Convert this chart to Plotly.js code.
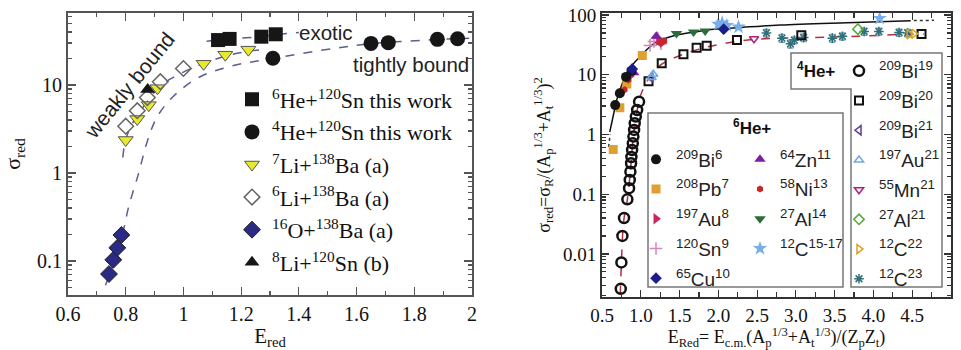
<!DOCTYPE html>
<html><head><meta charset="utf-8">
<script src="https://cdn.plot.ly/plotly-3.0.1.min.js"></script>
<style>html,body{margin:0;padding:0;background:#fff}</style>
</head><body><div id="chart" style="width:961px;height:350px"></div>
<script>
// ---------- LEFT PANEL DATA ----------
const he6Sn_x = [1.12, 1.16, 1.27, 1.32];
const he6Sn_y = [32.4, 33.4, 35.4, 37.7];
const he4Sn_x = [1.31, 1.65, 1.71, 1.88, 1.95];
const he4Sn_y = [20.1, 29.7, 30.3, 33.0, 33.6];
const li7Ba_x = [0.80, 0.84, 0.88, 0.91, 1.07, 1.145, 1.225];
const li7Ba_y = [2.37, 4.1, 5.9, 9.2, 17.4, 22.1, 25.2];
const li6Ba_x = [0.80, 0.84, 0.875, 0.92, 1.0];
const li6Ba_y = [3.4, 5.1, 7.2, 10.9, 15.4];
const o16Ba_x = [0.742, 0.757, 0.771, 0.785];
const o16Ba_y = [0.071, 0.103, 0.141, 0.197];
const li8Sn_x = [0.876];
const li8Sn_y = [8.9];
const fitExotic_x = [1.08, 1.12, 1.16, 1.27, 1.32, 1.40];
const fitExotic_y = [31.5, 32.4, 33.4, 35.4, 37.5, 39.5];
const fitWeak_x = [0.79, 0.80, 0.83, 0.88, 0.92, 1.0, 1.07, 1.15, 1.22, 1.29];
const fitWeak_y = [1.5, 2.4, 4.0, 6.8, 9.8, 14.0, 17.5, 21.5, 24.0, 25.5];
const fitTight_x = [0.73, 0.76, 0.79, 0.81, 0.845, 0.875, 0.91, 0.97, 1.06, 1.17, 1.31, 1.52, 1.65, 1.85, 1.99];
const fitTight_y = [0.053, 0.10, 0.21, 0.41, 1.0, 2.3, 4.4, 7.7, 12.5, 16.5, 20.1, 26, 29.5, 32.5, 34];

// ---------- RIGHT PANEL DATA ----------
const bi6_x = [0.67, 0.73, 0.81, 0.88];          const bi6_y = [3.1, 4.9, 9.2, 11.6];
const pb7_x = [0.645, 0.73, 0.82, 1.02];         const pb7_y = [0.56, 2.8, 7.0, 21];
const au8_x = [0.86, 1.23, 1.28];                const au8_y = [9.5, 38, 35];
const sn9_x = [1.12, 1.17, 1.22, 1.26];          const sn9_y = [31, 36, 41, 33];
const cu10_x = [0.89, 2.07];                     const cu10_y = [12.5, 58];
const zn11_x = [0.91, 1.20];                     const zn11_y = [10.8, 44];
const ni13_x = [0.79, 0.84, 1.25, 1.30];         const ni13_y = [5.6, 8.2, 34, 37];
const al14_x = [1.46, 1.68, 1.83, 2.06];         const al14_y = [49, 52, 54, 57];
const c15_x = [2.0, 2.05, 2.11, 2.26, 4.08];     const c15_y = [70, 74, 67, 63, 88];
const bi19_x = [0.742, 0.750, 0.763, 0.784, 0.827, 0.849, 0.858, 0.866, 0.875, 0.879, 0.888, 0.897, 0.905, 0.914, 0.922, 0.936, 0.953, 0.978];
const bi19_y = [0.0026, 0.0072, 0.020, 0.040, 0.082, 0.126, 0.173, 0.238, 0.33, 0.42, 0.55, 0.71, 0.92, 1.19, 1.54, 1.99, 2.57, 3.54];
const bi20_x = [1.10, 1.27, 1.55, 1.72, 1.85, 2.24, 3.07, 4.62];
const bi20_y = [7.8, 15.5, 22, 28.4, 30.6, 38.2, 46, 48];
const bi21_x = [1.13];                           const bi21_y = [9.0];
const au21_x = [1.14, 1.16];                     const au21_y = [9.0, 10.2];
const mn21_x = [2.46];                           const mn21_y = [40];
const al21_x = [3.8];                            const al21_y = [58];
const c22_x = [4.46, 4.52];                      const c22_y = [47.5, 48.5];
const c23_x = [2.62, 2.82, 2.93, 2.98, 3.10, 3.47, 3.60, 3.88, 4.07, 4.33, 4.44];
const c23_y = [50, 41, 33, 38, 42, 41, 44, 53, 53, 51, 50];
const c23_err = [7, 6, 5, 5, 6, 6, 6, 7, 7, 7, 7];
const fit6_x = [0.60, 0.65, 0.69, 0.75, 0.82, 0.90, 0.99, 1.10, 1.21, 1.35, 1.51, 1.70, 1.94, 2.30, 2.80, 3.66, 4.48];
const fit6_y = [1.1, 2.2, 3.8, 6.5, 10.6, 15, 20, 28, 35.7, 42, 47.5, 52, 57.5, 62, 68, 74.5, 80.3];
const fit6dot_x = [0.585, 0.605, null, 4.52, 4.78];
const fit6dot_y = [0.62, 1.0, null, 80.5, 81.5];
const fit4_x = [0.735, 0.75, 0.765, 0.785, 0.82, 0.86, 0.90, 0.95, 1.0, 1.05, 1.10, 1.27, 1.55, 1.85, 2.3, 2.6, 3.2, 3.8, 4.3, 4.65];
const fit4_y = [0.0021, 0.007, 0.02, 0.04, 0.07, 0.2, 0.8, 2.4, 4.6, 6.5, 8.5, 15, 22, 29, 37, 40, 42, 44, 47, 48];

const W = 961, H = 350;
const px = v => v / W, py = v => 1 - v / H;

const SERIF = 'Liberation Serif', SANS = 'Liberation Sans';
const fitColL = '#5a5e8e';

function mk(x, y, name, marker, extra) {
  return Object.assign({type: 'scatter', mode: 'markers', x: x, y: y, name: name, legendgroup: name, marker: marker}, extra || {});
}
function ln(x, y, line, xa, ya) {
  return {type: 'scatter', mode: 'lines', x: x, y: y, line: line, showlegend: false, xaxis: xa, yaxis: ya, hoverinfo: 'skip', connectgaps: false};
}

const traces = [
  ln(fitExotic_x, fitExotic_y, {color: fitColL, dash: 'dash', width: 1.5, shape: 'spline'}, 'x', 'y'),
  ln(fitWeak_x, fitWeak_y, {color: fitColL, dash: 'dash', width: 1.5, shape: 'spline'}, 'x', 'y'),
  ln(fitTight_x, fitTight_y, {color: fitColL, dash: 'dash', width: 1.5, shape: 'spline'}, 'x', 'y'),
  mk(he6Sn_x, he6Sn_y, '<sup>6</sup>He+<sup>120</sup>Sn this work', {symbol: 'square', size: 14, color: '#161616'}, {legend: 'legend'}),
  mk(he4Sn_x, he4Sn_y, '<sup>4</sup>He+<sup>120</sup>Sn this work', {symbol: 'circle', size: 15, color: '#161616'}, {legend: 'legend'}),
  mk(li7Ba_x, li7Ba_y, '<sup>7</sup>Li+<sup>138</sup>Ba (a)', {symbol: 'triangle-down', size: 13, color: '#e8e82c', line: {color: '#555', width: 1}}, {legend: 'legend'}),
  mk(li6Ba_x, li6Ba_y, '<sup>6</sup>Li+<sup>138</sup>Ba (a)', {symbol: 'diamond-open', size: 12, color: '#666', line: {width: 1.5}}, {legend: 'legend'}),
  mk(o16Ba_x, o16Ba_y, '<sup>16</sup>O+<sup>138</sup>Ba (a)', {symbol: 'diamond', size: 13, color: '#2b2b85', line: {color: '#222', width: 1}}, {legend: 'legend'}),
  mk(li8Sn_x, li8Sn_y, '<sup>8</sup>Li+<sup>120</sup>Sn (b)', {symbol: 'triangle-up', size: 13, color: '#161616'}, {legend: 'legend'}),
  ln(fit4_x, fit4_y, {color: '#b03040', dash: 'dash', width: 1.5, shape: 'spline'}, 'x2', 'y2'),
  ln(fit6_x, fit6_y, {color: '#111', width: 1.5, shape: 'spline'}, 'x2', 'y2'),
  ln(fit6dot_x, fit6dot_y, {color: '#333', dash: 'dot', width: 1.5}, 'x2', 'y2'),
];
const R = {xaxis: 'x2', yaxis: 'y2'};
const rightTraces = [
  mk(c23_x, c23_y, '<sup>12</sup>C<sup>23</sup>', {symbol: 'asterisk-open', size: 8, color: '#2f6f7a', line: {color: '#2f6f7a', width: 1.5}},
     Object.assign({legend: 'legend4', error_y: {type: 'data', array: c23_err, color: '#7aa8b8', thickness: 1.5, width: 3}}, R)),
  mk(bi20_x, bi20_y, '<sup>209</sup>Bi<sup>20</sup>', {symbol: 'square-open', size: 8, color: '#111', line: {width: 2}}, Object.assign({legend: 'legend4'}, R)),
  mk(bi21_x, bi21_y, '<sup>209</sup>Bi<sup>21</sup>', {symbol: 'triangle-left-open', size: 8, color: '#5b3b9b', line: {width: 1.5}}, Object.assign({legend: 'legend4'}, R)),
  mk(au21_x, au21_y, '<sup>197</sup>Au<sup>21</sup>', {symbol: 'triangle-up-open', size: 8, color: '#6fa8e0', line: {width: 1.5}}, Object.assign({legend: 'legend4'}, R)),
  mk(mn21_x, mn21_y, '<sup>55</sup>Mn<sup>21</sup>', {symbol: 'triangle-down-open', size: 8, color: '#b0207a', line: {width: 1.5}}, Object.assign({legend: 'legend4'}, R)),
  mk(al21_x, al21_y, '<sup>27</sup>Al<sup>21</sup>', {symbol: 'diamond-open', size: 8, color: '#5aaa3a', line: {width: 1.5}}, Object.assign({legend: 'legend4'}, R)),
  mk(c22_x, c22_y, '<sup>12</sup>C<sup>22</sup>', {symbol: 'triangle-right-open', size: 8, color: '#e0a020', line: {width: 1.5}}, Object.assign({legend: 'legend4'}, R)),
  mk(pb7_x, pb7_y, '<sup>208</sup>Pb<sup>7</sup>', {symbol: 'square', size: 9, color: '#e0a030'}, Object.assign({legend: 'legend2'}, R)),
  mk(al14_x, al14_y, '<sup>27</sup>Al<sup>14</sup>', {symbol: 'triangle-down', size: 10, color: '#2e6b3a'}, Object.assign({legend: 'legend3'}, R)),
  mk(sn9_x, sn9_y, '<sup>120</sup>Sn<sup>9</sup>', {symbol: 'cross-thin-open', size: 9, color: '#d486b8', line: {color: '#d070b0', width: 1.5}}, Object.assign({legend: 'legend2'}, R)),
  mk(au8_x, au8_y, '<sup>197</sup>Au<sup>8</sup>', {symbol: 'triangle-right', size: 10, color: '#c8285a'}, Object.assign({legend: 'legend2'}, R)),
  mk(zn11_x, zn11_y, '<sup>64</sup>Zn<sup>11</sup>', {symbol: 'triangle-up', size: 10, color: '#7b1fa2'}, Object.assign({legend: 'legend3'}, R)),
  mk(ni13_x, ni13_y, '<sup>58</sup>Ni<sup>13</sup>', {symbol: 'hexagon', size: 7, color: '#c62828'}, Object.assign({legend: 'legend3'}, R)),
  mk(c15_x, c15_y, '<sup>12</sup>C<sup>15-17</sup>', {symbol: 'star', size: 11, color: '#78aee8'}, Object.assign({legend: 'legend3'}, R)),
  mk(bi6_x, bi6_y, '<sup>209</sup>Bi<sup>6</sup>', {symbol: 'circle', size: 10, color: '#151515'}, Object.assign({legend: 'legend2'}, R)),
  mk(cu10_x, cu10_y, '<sup>65</sup>Cu<sup>10</sup>', {symbol: 'diamond', size: 9, color: '#1c1c8c'}, Object.assign({legend: 'legend2'}, R)),
  mk(bi19_x, bi19_y, '<sup>209</sup>Bi<sup>19</sup>', {symbol: 'circle-open', size: 10, color: '#111', line: {width: 2.5}}, Object.assign({legend: 'legend4'}, R)),
];
traces.push(...rightTraces);

const order2 = ['<sup>209</sup>Bi<sup>6</sup>', '<sup>208</sup>Pb<sup>7</sup>', '<sup>197</sup>Au<sup>8</sup>', '<sup>120</sup>Sn<sup>9</sup>', '<sup>65</sup>Cu<sup>10</sup>',
  '<sup>64</sup>Zn<sup>11</sup>', '<sup>58</sup>Ni<sup>13</sup>', '<sup>27</sup>Al<sup>14</sup>', '<sup>12</sup>C<sup>15-17</sup>',
  '<sup>209</sup>Bi<sup>19</sup>', '<sup>209</sup>Bi<sup>20</sup>', '<sup>209</sup>Bi<sup>21</sup>', '<sup>197</sup>Au<sup>21</sup>', '<sup>55</sup>Mn<sup>21</sup>', '<sup>27</sup>Al<sup>21</sup>', '<sup>12</sup>C<sup>22</sup>', '<sup>12</sup>C<sup>23</sup>'];
traces.forEach(t => { if (t.legend && t.legend !== 'legend') t.legendrank = order2.indexOf(t.name) + 1; });

const tickFont = {family: SERIF, size: 20, color: '#111'};
const tickFont2 = {family: SERIF, size: 19, color: '#111'};
function frameAxis(extra) {
  return Object.assign({showline: true, mirror: 'ticks', linewidth: 2, ticks: 'inside', tickwidth: 1.2,
    showgrid: false, zeroline: false, tickfont: tickFont}, extra);
}

const legendBase = {bgcolor: 'rgba(0,0,0,0)', borderwidth: 0, xanchor: 'left', yanchor: 'top', orientation: 'v',
  traceorder: 'grouped', itemclick: false, itemdoubleclick: false};

const boxPath6 = `M ${px(648)},${py(113)} L ${px(843)},${py(113)} L ${px(843)},${py(287)} L ${px(648)},${py(287)} Z`;
const boxPath4 = `M ${px(791)},${py(53)} L ${px(942)},${py(53)} L ${px(942)},${py(287)} L ${px(851)},${py(287)} L ${px(851)},${py(89)} L ${px(791)},${py(89)} Z`;

const layout = {
  width: W, height: H,
  margin: {l: 0, r: 0, t: 0, b: 0},
  paper_bgcolor: '#fff', plot_bgcolor: '#fff',
  font: {family: SERIF, color: '#111'},
  xaxis: frameAxis({domain: [px(68), px(472)], range: [0.6, 2.0], tick0: 0.6, dtick: 0.2, ticklen: 8,
    linecolor: '#555', tickcolor: '#555', anchor: 'y',
    minor: {ticks: 'inside', dtick: 0.1, ticklen: 4, tickcolor: '#555'},
    title: {text: 'E<sub>red</sub>', font: {family: SERIF, size: 21}, standoff: 4}}),
  yaxis: frameAxis({type: 'log', domain: [py(295), py(13)], range: [Math.log10(0.041), Math.log10(65.8)],
    tickmode: 'array', tickvals: [0.1, 1, 10], ticktext: ['0.1', '1', '10'], ticklen: 8,
    linecolor: '#555', tickcolor: '#555', anchor: 'x',
    minor: {ticks: 'inside', dtick: 'D1', ticklen: 4, tickcolor: '#555'},
    title: {text: 'σ<sub>red</sub>', font: {family: SERIF, size: 22}, standoff: 10}}),
  xaxis2: frameAxis({domain: [px(602), px(951)], range: [0.5, 5.0], tick0: 0.5, dtick: 0.5, tickformat: '.1f', ticklen: 7,
    linecolor: '#333', tickcolor: '#333', anchor: 'y2', tickfont: tickFont2,
    minor: {ticks: 'inside', dtick: 0.25, ticklen: 5, tickcolor: '#333'},
    title: {text: 'E<sub>Red</sub>= E<sub>c.m.</sub>(A<sub>p</sub><sup>1/3</sup>+A<sub>t</sub><sup>1/3</sup>)/(Z<sub>p</sub>Z<sub>t</sub>)', font: {family: SERIF, size: 18}, standoff: 6}}),
  yaxis2: frameAxis({type: 'log', domain: [py(297), py(13)], range: [Math.log10(0.0019), Math.log10(108)],
    tickmode: 'array', tickvals: [0.01, 0.1, 1, 10, 100], ticktext: ['0.01', '0.1', '1', '10', '100'], ticklen: 7,
    linecolor: '#333', tickcolor: '#333', anchor: 'x2', tickfont: tickFont2,
    minor: {ticks: 'inside', dtick: 'D1', ticklen: 4, tickcolor: '#333'},
    title: {text: 'σ<sub>red</sub>=σ<sub>R</sub>/(A<sub>p</sub><sup>1/3</sup>+A<sub>t</sub><sup>1/3</sup>)<sup>2</sup>', font: {family: SERIF, size: 18}, standoff: 8}}),
  legend: Object.assign({}, legendBase, {x: px(232), y: py(78.5), font: {family: SERIF, size: 22, color: '#111'}, tracegroupgap: 1}),
  legend2: Object.assign({}, legendBase, {x: px(636), y: py(140.5), font: {family: SANS, size: 19, color: '#222'}, tracegroupgap: 2}),
  legend3: Object.assign({}, legendBase, {x: px(740), y: py(140.5), font: {family: SANS, size: 19, color: '#222'}, tracegroupgap: 2}),
  legend4: Object.assign({}, legendBase, {x: px(839), y: py(52), font: {family: SANS, size: 19, color: '#222'}, tracegroupgap: 2}),
  shapes: [
    {type: 'path', xref: 'paper', yref: 'paper', path: boxPath6, line: {color: '#777', width: 1.5}},
    {type: 'path', xref: 'paper', yref: 'paper', path: boxPath4, line: {color: '#777', width: 1.5}},
  ],
  annotations: [
    {xref: 'x', yref: 'y', x: 1.493, y: Math.log10(40), text: 'exotic', showarrow: false, xanchor: 'center', yanchor: 'middle', font: {family: SANS, size: 20.5, color: '#222'}},
    {xref: 'x', yref: 'y', x: 1.79, y: Math.log10(16.9), text: 'tightly bound', showarrow: false, xanchor: 'center', yanchor: 'middle', font: {family: SANS, size: 20.5, color: '#222'}},
    {xref: 'x', yref: 'y', x: 0.812, y: Math.log10(9.8), text: 'weakly bound', textangle: -51, showarrow: false, xanchor: 'center', yanchor: 'middle', font: {family: SANS, size: 21, color: '#222'}},
    {xref: 'paper', yref: 'paper', x: px(752), y: py(127), text: '<b><sup>6</sup>He+</b>', showarrow: false, xanchor: 'center', yanchor: 'middle', font: {family: SANS, size: 17, color: '#111'}},
    {xref: 'paper', yref: 'paper', x: px(816), y: py(70), text: '<b><sup>4</sup>He+</b>', showarrow: false, xanchor: 'center', yanchor: 'middle', font: {family: SANS, size: 17, color: '#111'}},
  ],
  showlegend: true,
};

Plotly.newPlot('chart', traces, layout, {displayModeBar: false, staticPlot: true});
</script></body></html>
